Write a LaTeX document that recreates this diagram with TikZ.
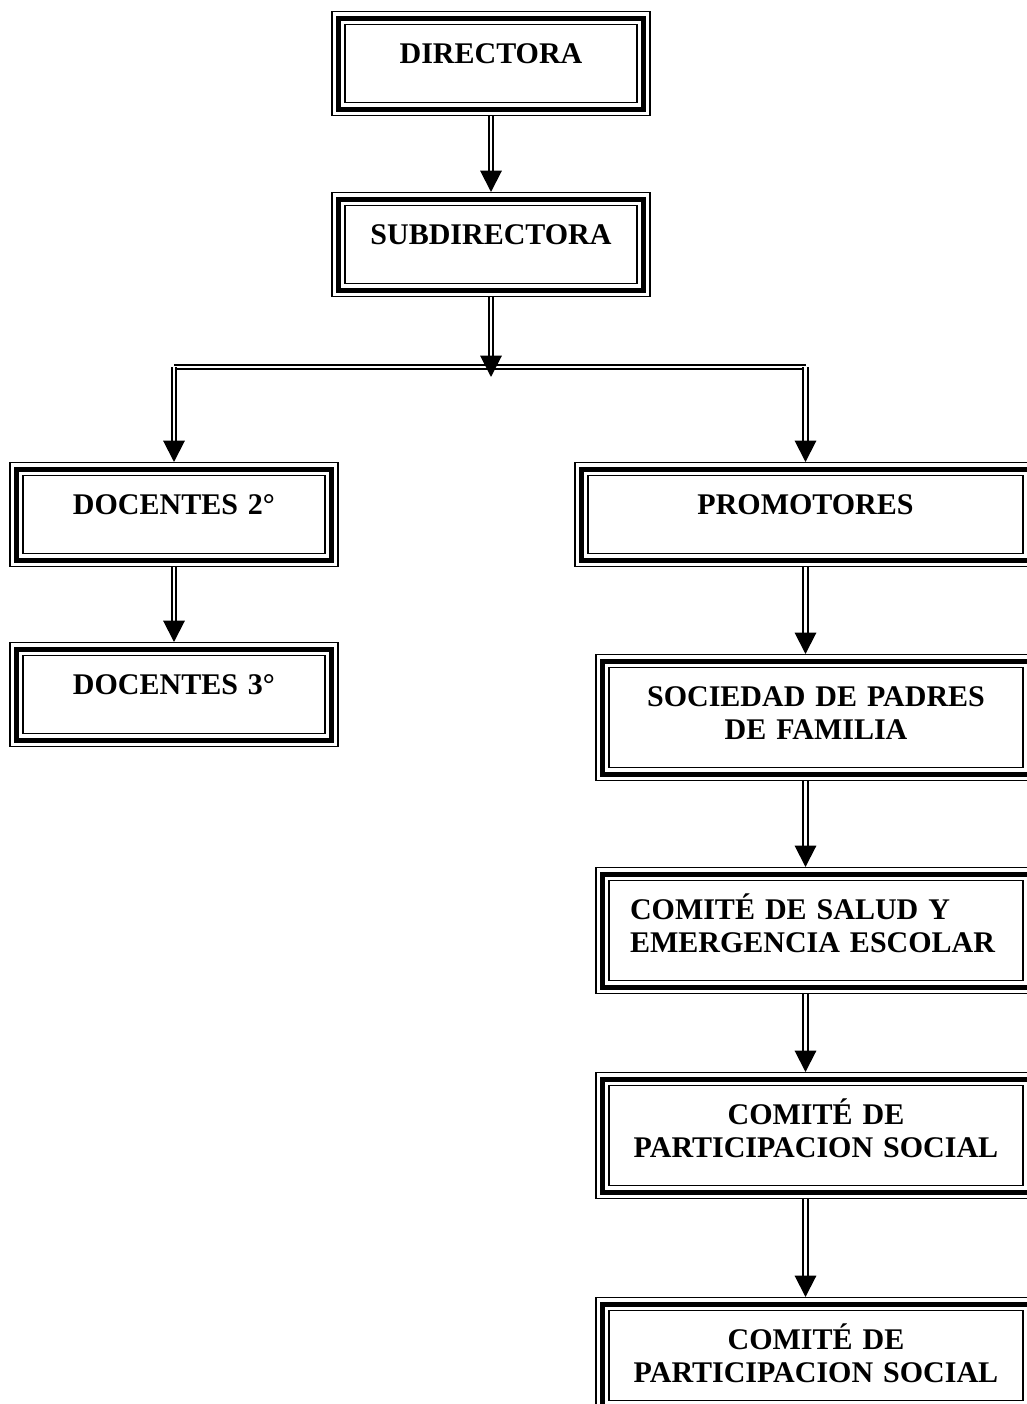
\documentclass[tikz,border=0pt]{standalone}
\usepackage{fontspec}
\setmainfont{Liberation Serif}
\usetikzlibrary{arrows.meta}

\begin{document}
\begin{tikzpicture}[
    x=0.75pt, y=-0.75pt,
    box/.style={draw, line width=1.1pt, inner sep=0pt, anchor=north,
                align=center, text height=38.5pt, text depth=39.5pt,
                font=\bfseries\fontsize{22.5pt}{25pt}\selectfont,
                path picture={
                  \draw[line width=3.75pt] ([shift={(4.9pt,-4.9pt)}]path picture bounding box.north west)
                    rectangle ([shift={(-4.9pt,4.9pt)}]path picture bounding box.south east);
                  \draw[line width=0.9pt] ([shift={(9.75pt,-9.75pt)}]path picture bounding box.north west)
                    rectangle ([shift={(-9.75pt,9.75pt)}]path picture bounding box.south east);
                }},
    tall/.style={text depth=56pt},
    midcol/.style={box, text width=238.5pt},
    leftcol/.style={box, text width=246pt},
    rightcol/.style={box, text width=330pt},
    arr/.style={double, double distance=2.2pt, line width=1.5pt, -{Triangle[length=16pt,width=16pt]}},
    barline/.style={double, double distance=2.2pt, line width=1.5pt}
]
\useasboundingbox (0,0) rectangle (1026,1404);
\node[midcol] (dir) at (491,11) {DIRECTORA};
\node[midcol] (sub) at (491,192) {SUBDIRECTORA};
\node[leftcol] (doc2) at (174,462) {DOCENTES 2°};
\node[leftcol] (doc3) at (174,642) {DOCENTES 3°};
\node[box, text width=345.75pt] (prom) at (805.5,462) {PROMOTORES};
\node[rightcol, tall] (soc) at (816,654) {SOCIEDAD DE PADRES\\DE FAMILIA};
\node[rightcol, tall, align=left, text width=279pt, inner xsep=25.5pt] (sal) at (816,867) {COMITÉ DE SALUD Y\\EMERGENCIA ESCOLAR};
\node[rightcol, tall] (part1) at (816,1072) {COMITÉ DE\\PARTICIPACION SOCIAL};
\node[rightcol, text depth=48.5pt] (part2) at (816,1297) {COMITÉ DE\\PARTICIPACION SOCIAL};
\coordinate (hub) at (491,377);
\coordinate (barL) at (174,367);
\coordinate (barR) at (805.5,367);
\draw[arr] (dir) -- (sub);
\draw[barline] (barL) -- (barR);
\draw[arr] (sub) -- (hub);
\draw[arr] (barL) -- (doc2);
\draw[arr] (barR) -- (prom);
\draw[arr] (doc2) -- (doc3);
\draw[arr] (prom) -- (prom.south |- soc.north);
\draw[arr] (prom.south |- soc.south) -- (prom.south |- sal.north);
\draw[arr] (prom.south |- sal.south) -- (prom.south |- part1.north);
\draw[arr] (prom.south |- part1.south) -- (prom.south |- part2.north);
\end{tikzpicture}
\end{document}
